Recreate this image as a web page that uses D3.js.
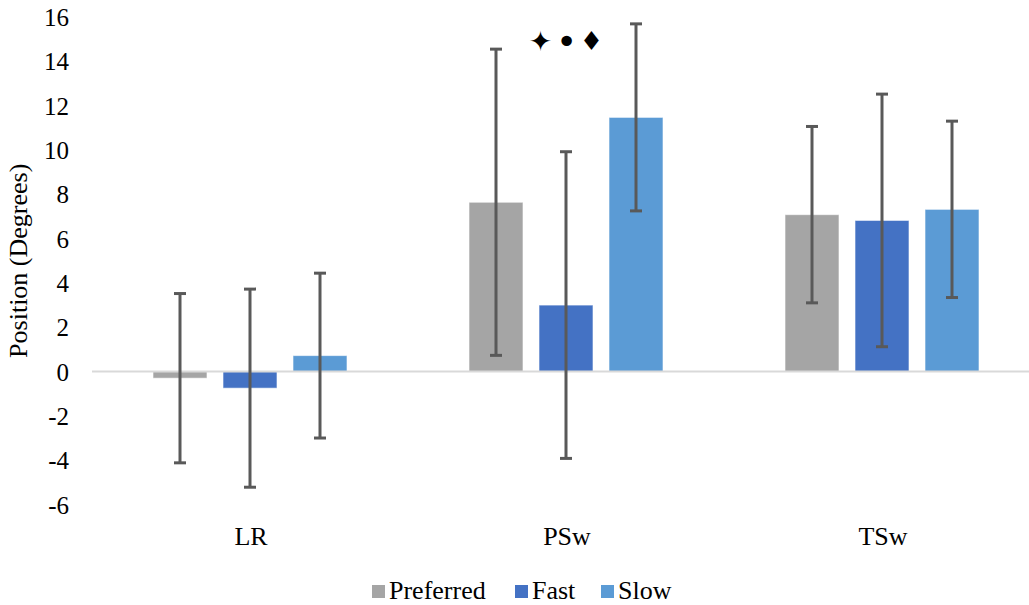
<!DOCTYPE html>
<html>
<head>
<meta charset="utf-8">
<script src="https://cdn.jsdelivr.net/npm/d3@7"></script>
<style>
  html, body { margin: 0; padding: 0; background: #fff; }
  svg { display: block; }
</style>
</head>
<body>
<svg id="chart" width="1029" height="605"></svg>
<script>
const categories = ["LR", "PSw", "TSw"];
const seriesNames = ["Preferred", "Fast", "Slow"];
const seriesColors = ["#A5A5A5", "#4472C4", "#5B9BD5"];
const preferredMean = [-0.3, 7.64, 7.08];
const preferredSD = [3.82, 6.91, 3.98];
const fastMean = [-0.75, 3.0, 6.82];
const fastSD = [4.47, 6.92, 5.70];
const slowMean = [0.72, 11.47, 7.32];
const slowSD = [3.72, 4.22, 3.98];
const yTicks = [-6, -4, -2, 0, 2, 4, 6, 8, 10, 12, 14, 16];
const yTitle = "Position (Degrees)";
const sigSymbols = ["\u2726", "\u2022", "\u2666"];
const sigCategory = "PSw";

const means = [preferredMean, fastMean, slowMean];
const sds = [preferredSD, fastSD, slowSD];
const data = [];
categories.forEach((c, i) => {
  seriesNames.forEach((s, j) => {
    data.push({cat: c, series: s, color: seriesColors[j], mean: means[j][i], sd: sds[j][i]});
  });
});

const SERIF = '"Liberation Serif"';
const svg = d3.select("#chart");

const x0 = d3.scaleBand().domain(categories).range([92, 1040]).paddingInner(0).paddingOuter(0);
const x1 = d3.scaleBand().domain(seriesNames).range([61, 255]).paddingInner(16 / 70).paddingOuter(0);
const y = d3.scaleLinear().domain([-6, 16]).range([504.5, 17]);

// y tick labels
const yAxis = d3.axisLeft(y).tickValues(yTicks).tickSize(0).tickPadding(0).tickFormat(d => String(d));
const yg = svg.append("g").attr("transform", "translate(69,0)").call(yAxis);
yg.attr("font-family", null).attr("font-size", null);
yg.select(".domain").remove();
yg.selectAll("text")
  .style("font-family", SERIF).style("font-size", "25px")
  .attr("fill", "#000").attr("dy", "0.34em");

// y title
svg.append("text")
  .attr("transform", `translate(27,${(y(16) + y(-6)) / 2}) rotate(-90)`)
  .attr("text-anchor", "middle")
  .style("font-family", SERIF).style("font-size", "26px")
  .attr("fill", "#000")
  .text(yTitle);

// bars
svg.append("g").selectAll("rect.bar").data(data).join("rect")
  .attr("class", "bar")
  .attr("x", d => x0(d.cat) + x1(d.series))
  .attr("width", x1.bandwidth())
  .attr("y", d => y(Math.max(0, d.mean)))
  .attr("height", d => Math.abs(y(d.mean) - y(0)))
  .attr("fill", d => d.color)
  .attr("stroke", "#fff").attr("stroke-opacity", 0.6).attr("stroke-width", 1);

// zero line
svg.append("line")
  .attr("x1", x0.range()[0]).attr("x2", x0.range()[1])
  .attr("y1", y(0)).attr("y2", y(0))
  .attr("stroke", "#D9D9D9").attr("stroke-width", 2);

// error bars
const eg = svg.append("g").attr("stroke", "#595959").attr("stroke-width", 3);
data.forEach(d => {
  const cx = x0(d.cat) + x1(d.series) + x1.bandwidth() / 2;
  const top = y(d.mean + d.sd), bot = y(d.mean - d.sd);
  eg.append("line").attr("x1", cx).attr("x2", cx).attr("y1", top).attr("y2", bot);
  eg.append("line").attr("x1", cx - 6).attr("x2", cx + 6).attr("y1", top).attr("y2", top);
  eg.append("line").attr("x1", cx - 6).attr("x2", cx + 6).attr("y1", bot).attr("y2", bot);
});

// category labels
svg.append("g").selectAll("text").data(categories).join("text")
  .attr("x", d => x0(d) + x0.bandwidth() / 2 + 1)
  .attr("y", 545)
  .attr("text-anchor", "middle")
  .style("font-family", SERIF).style("font-size", "26px")
  .attr("fill", "#000")
  .text(d => d);

// significance symbols over PSw
const symX = [-25.5, 0.5, 25.5];
const symSize = [28, 36, 26];
const pswCenter = x0(sigCategory) + x0.bandwidth() / 2;
svg.append("g").selectAll("text").data(sigSymbols).join("text")
  .attr("x", (d, i) => pswCenter + symX[i])
  .attr("y", 41)
  .attr("dy", "0.35em")
  .attr("text-anchor", "middle")
  .style("font-family", '"DejaVu Sans"')
  .style("font-size", (d, i) => symSize[i] + "px")
  .attr("fill", "#000")
  .text(d => d);

// legend
const legendItems = [
  {name: seriesNames[0], color: seriesColors[0], x: 372},
  {name: seriesNames[1], color: seriesColors[1], x: 515},
  {name: seriesNames[2], color: seriesColors[2], x: 601}
];
const lg = svg.append("g");
legendItems.forEach(it => {
  lg.append("rect").attr("x", it.x).attr("y", 585).attr("width", 13).attr("height", 13).attr("fill", it.color);
  lg.append("text").attr("x", it.x + 17).attr("y", 599)
    .style("font-family", SERIF).style("font-size", "26px")
    .attr("fill", "#000")
    .text(it.name);
});
</script>
</body>
</html>
